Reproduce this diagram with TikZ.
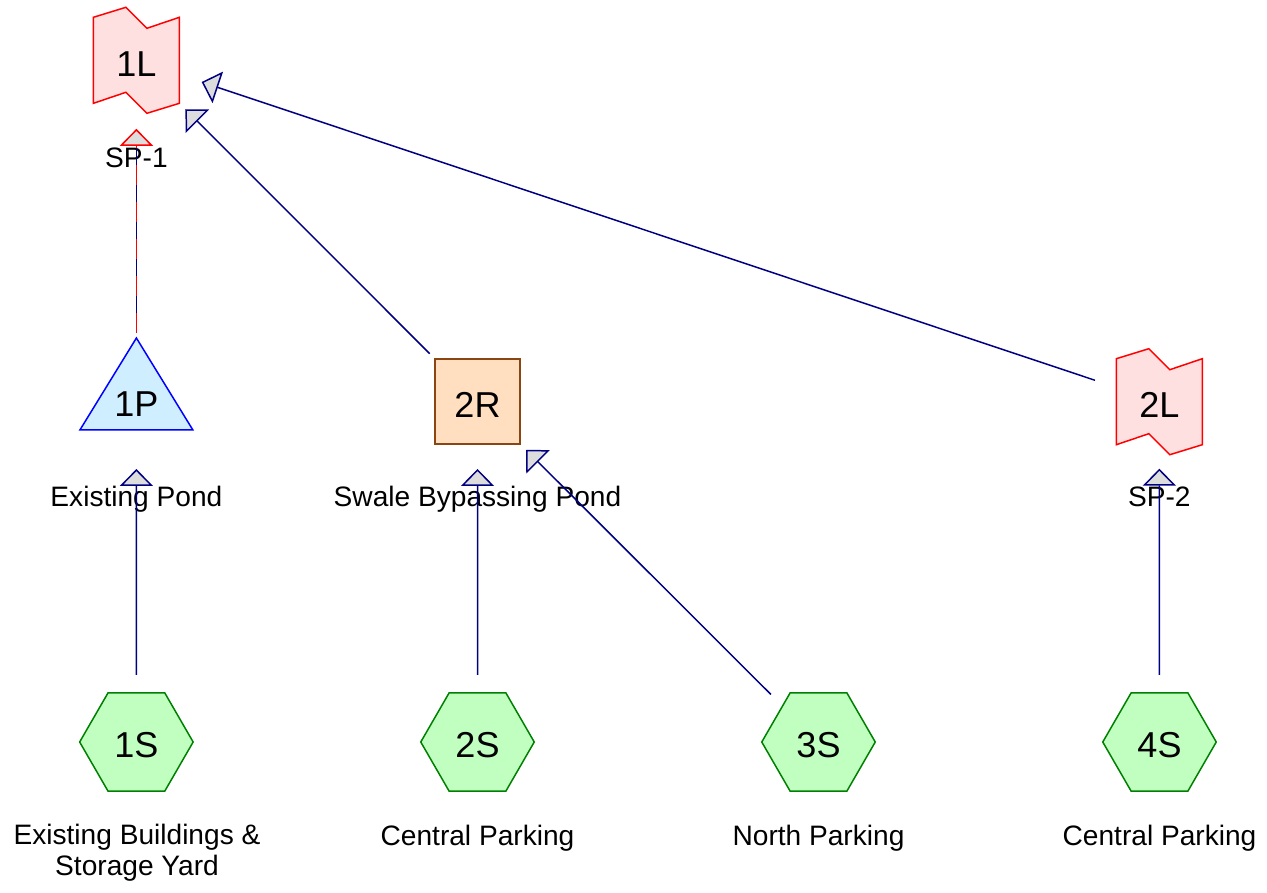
\documentclass[tikz,border=0pt]{standalone}
\usepackage{fontspec}
\setmainfont{Liberation Sans}
\usetikzlibrary{shapes.geometric,arrows.meta,backgrounds}

\definecolor{flowblue}{HTML}{000080}
\definecolor{tipgray}{HTML}{DDDDDD}
\definecolor{linkfill}{HTML}{FFE0E0}
\definecolor{pondfill}{HTML}{CFEEFF}
\definecolor{reachfill}{HTML}{FFDFBF}
\definecolor{reachline}{HTML}{8B4513}
\definecolor{subfill}{HTML}{C0FFC0}
\definecolor{subline}{HTML}{008000}

\tikzset{
  shapebox/.style={inner sep=0pt, outer sep=0pt, font=\fontsize{20.5}{23}\selectfont, text height=22pt, text depth=4pt},
  link/.style={shapebox, minimum width=1.72cm, minimum height=2.12cm},
  pond/.style={shapebox, minimum width=2.26cm, minimum height=1.84cm, text height=41pt},
  reach/.style={shapebox, draw=reachline, fill=reachfill, line width=0.85pt, minimum size=1.7cm},
  subcat/.style={shapebox, regular polygon, regular polygon sides=6, draw=subline, fill=subfill, line width=0.85pt, minimum size=2.27cm},
  caption/.style={font=\fontsize{16}{17.5}\selectfont, align=center, anchor=base},
  flow/.style={draw=flowblue, line width=0.85pt, -{Triangle[length=0.34cm, width=0.66cm, fill=tipgray]}},
}

\begin{document}
\begin{tikzpicture}[x=0.02cm, y=-0.02cm]
  \useasboundingbox (0,0) rectangle (1267,892);

  % ponds, reaches and links
  \node[link] (l1) at (136.4,60.3) {1L};
  \node[pond] (p1) at (136.4,384) {1P};
  \node[reach] (r2) at (477.5,401.5) {2R};
  \node[link] (l2) at (1159.3,401.7) {2L};

  % subcatchments
  \node[subcat] (s1) at (136.4,742) {1S};
  \node[subcat] (s2) at (477.5,742) {2S};
  \node[subcat] (s3) at (818.5,742) {3S};
  \node[subcat] (s4) at (1159.5,742) {4S};

  \begin{scope}[on background layer]
    \foreach \n in {l1,l2}
      \draw[red, fill=linkfill, line width=0.85pt] ([shift={(-43,-43)}]\n.center) -- ([shift={(-10.5,-53)}]\n.center)
        -- ([shift={(10.5,-32)}]\n.center) -- ([shift={(43,-43)}]\n.center) -- ([shift={(43,43)}]\n.center)
        -- ([shift={(10.5,53)}]\n.center) -- ([shift={(-10.5,32)}]\n.center) -- ([shift={(-43,43)}]\n.center) -- cycle;
    \draw[blue, fill=pondfill, line width=0.85pt] (p1.north) -- (p1.south east) -- (p1.south west) -- cycle;
  \end{scope}

  % captions
  \node[caption] (l1lbl) at (136.4,167) {SP-1};
  \node[caption] (p1lbl) at (136.4,506) {Existing Pond};
  \node[caption] (r2lbl) at (477.5,506) {Swale Bypassing Pond};
  \node[caption] (l2lbl) at (1159.3,506) {SP-2};
  \node[caption] (s1lbl) at (137,875) {Existing Buildings \&\\Storage Yard};
  \node[caption] (s2lbl) at (477.5,845) {Central Parking};
  \node[caption] (s3lbl) at (818.5,845) {North Parking};
  \node[caption] (s4lbl) at (1159.5,845) {Central Parking};

  % routing
  \draw[flow, shorten <=0.36cm, shorten >=0.78cm] (s1) -- (p1);
  \draw[flow, shorten <=0.36cm, shorten >=0.5cm] (s2) -- (r2);
  \draw[flow, shorten <=0.33cm, shorten >=0.17cm] (s3) -- (r2);
  \draw[flow, shorten <=0.36cm, shorten >=0.28cm] (s4) -- (l2);
  \draw[flow, shorten <=0.15cm, shorten >=0.17cm] (r2) -- (l1);
  \draw[flow, shorten <=0.45cm, shorten >=0.47cm] (l2) -- (l1);
  \draw[flow, shorten <=0.1cm, shorten >=0.31cm, -{Triangle[length=0.34cm, width=0.66cm, color=red, fill=tipgray]}] (p1) -- (l1);
  \draw[red, line width=0.85pt, dash pattern=on 0.4cm off 0.34cm, shorten <=0.1cm, shorten >=0.65cm] (p1) -- (l1);
\end{tikzpicture}
\end{document}
